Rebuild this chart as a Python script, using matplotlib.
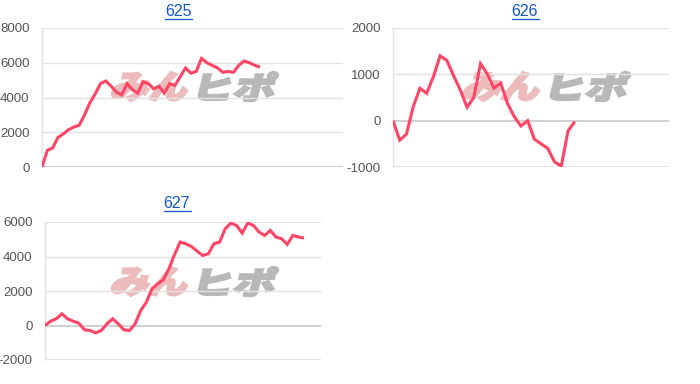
import matplotlib
matplotlib.use("Agg")
import matplotlib.pyplot as plt
from matplotlib.textpath import TextPath
from matplotlib.font_manager import FontProperties
from matplotlib.patches import PathPatch
from matplotlib.transforms import Affine2D, IdentityTransform
from matplotlib.lines import Line2D

plt.rcParams['font.family'] = ['Liberation Sans', 'DejaVu Sans']
plt.rcParams['axes.unicode_minus'] = False

# --- данные ---
titles = ['625', '626', '627']

values_625 = [0, 950, 1100, 1700, 1900, 2150, 2300, 2400, 3000, 3700, 4200,
              4800, 4950, 4650, 4300, 4150, 4800, 4450, 4250, 4900, 4800,
              4500, 4650, 4250, 4800, 4700, 5200, 5700, 5400, 5500, 6250,
              6000, 5850, 5700, 5450, 5500, 5450, 5850, 6100, 6000, 5850, 5750]

values_626 = [0, -420, -290, 300, 700, 590, 950, 1400, 1300, 970, 660, 290,
              500, 1230, 1010, 700, 810, 375, 90, -115, 0, -400, -500, -600,
              -890, -980, -220, -20]

values_627 = [0, 250, 390, 680, 390, 250, 135, -250, -290, -425, -290, 100,
              390, 100, -250, -290, 100, 870, 1350, 2130, 2420, 2650, 3290,
              4120, 4840, 4740, 4580, 4310, 4060, 4160, 4740, 4840, 5610,
              5940, 5800, 5360, 5940, 5800, 5420, 5220, 5510, 5130, 5030,
              4700, 5220, 5130, 5070]

yticks_625 = [0, 2000, 4000, 6000, 8000]
yticks_626 = [-1000, 0, 1000, 2000]
yticks_627 = [-2000, 0, 2000, 4000, 6000]

W, H = 700, 384
fig = plt.figure(figsize=(W / 100, H / 100), dpi=100)

LINE = '#ff4466'
GRID = '#e2e2e2'
BASE = '#c4c4c4'


def px_axes(left, top, right, bottom):
    return fig.add_axes([left / W, (H - bottom) / H, (right - left) / W, (bottom - top) / H])


def watermark(x0, ytop, w, h, text, color):
    # надпись-логотип, наклонённая
    tp = TextPath((0, 0), text, size=100,
                  prop=FontProperties(family='Noto Sans CJK JP', weight='heavy'))
    ext = tp.get_extents()
    shear = 14
    w_inner = w - h * 0.25
    tr = (Affine2D().translate(-ext.x0, -ext.y0)
          .scale(w_inner / ext.width, h / ext.height)
          .skew_deg(shear, 0)
          .translate(x0, H - ytop - h))
    path = tr.transform_path(tp)
    fig.add_artist(PathPatch(path, facecolor=color, edgecolor=color, lw=1.6,
                             transform=IdentityTransform(), zorder=-5))


def small_chart(box, values, yticks, xmax, title, title_xy, wm_xy):
    ax = px_axes(*box)
    ax.set_facecolor('none')
    watermark(wm_xy[0], wm_xy[1], 82, 29, 'みん', '#ecbcbc')
    watermark(wm_xy[0] + 87, wm_xy[1], 82, 29, 'ヒポ', '#b8b8b8')

    ax.plot(range(len(values)), values, color=LINE, lw=2.2, zorder=5,
            solid_joinstyle='miter', solid_capstyle='butt')
    ax.set_xlim(0, xmax)
    ax.set_ylim(yticks[0], yticks[-1])
    ax.set_yticks(yticks)
    ax.set_xticks([])
    for t in yticks:
        if t == 0:
            ax.axhline(0, color=BASE, lw=2.0 if t == yticks[0] else 1.1, zorder=3)
        elif t == yticks[0]:
            ax.axhline(t, color=GRID, lw=1.5, zorder=1)
        else:
            ax.axhline(t, color=GRID, lw=1.0, zorder=1)
    for s in ['top', 'right', 'bottom']:
        ax.spines[s].set_visible(False)
    ax.spines['left'].set_color(GRID)
    ax.spines['left'].set_linewidth(1.0)
    ax.tick_params(axis='y', length=0, pad=9, labelsize=9.5, labelcolor='#555555')

    # заголовок-ссылка с подчёркиванием
    tx, ty = title_xy
    fig.text(tx / W, 1 - ty / H, title, ha='center', va='center',
             fontsize=11.5, color='#1155cc')
    fig.add_artist(Line2D([(tx - 13.5) / W, (tx + 13.5) / W],
                          [1 - (ty + 7.5) / H, 1 - (ty + 7.5) / H],
                          color='#1155cc', lw=0.9))
    return ax


small_chart((42, 28, 343, 167), values_625, yticks_625, 56.6, titles[0], (178, 11), (110, 72))
small_chart((393, 28, 669, 167), values_626, yticks_626, 41.0, titles[1], (525, 11), (462, 72))
small_chart((45, 222, 321, 360), values_627, yticks_627, 49.0, titles[2], (177, 203), (110, 267))

fig.savefig('out.png', dpi=100, facecolor='white')
